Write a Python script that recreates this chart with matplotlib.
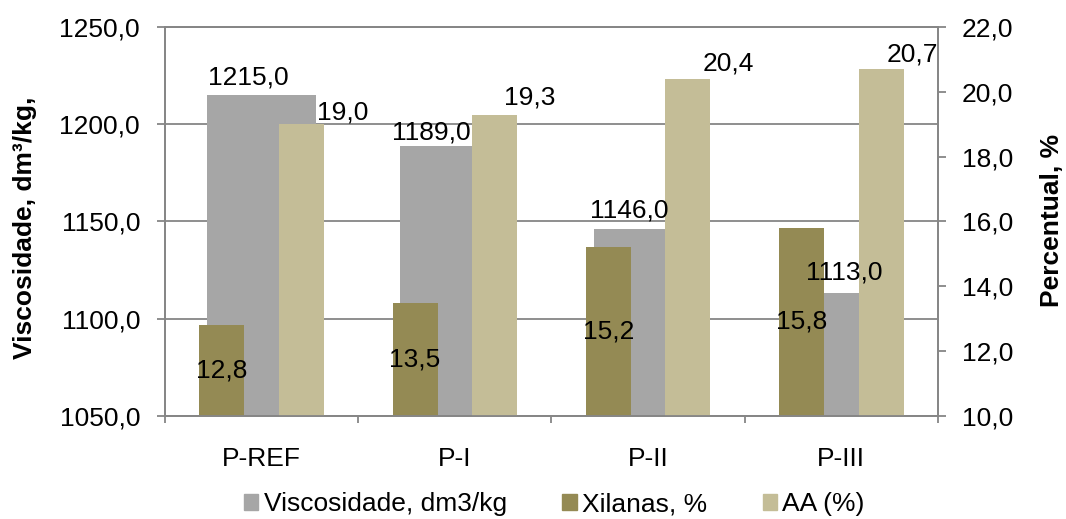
import matplotlib.pyplot as plt
import numpy as np
from matplotlib.patches import Patch

plt.rcParams['font.family'] = ['Liberation Sans', 'DejaVu Sans']
plt.rcParams['font.size'] = 19

amostras = ['P-REF', 'P-I', 'P-II', 'P-III']
viscosidade = [1215.0, 1189.0, 1146.0, 1113.0]   # dm3/kg
xilanas = [12.8, 13.5, 15.2, 15.8]               # %
aa = [19.0, 19.3, 20.4, 20.7]                    # %

cor_visc = '#a6a6a6'
cor_xil = '#948a54'
cor_aa = '#c4bd97'
cor_eixo = '#868686'

# deslocamento dos rotulos em pixels (x, y)
desl_visc = [(-13, 18), (-24, 13), (-19, 19), (3, 21)]
desl_aa = [(41, 12), (35, 17), (40, 15), (31, 15)]

fig = plt.figure(figsize=(10.66, 5.19), dpi=100)
ax1 = fig.add_axes([0.1548, 0.1985, 0.7251, 0.7495])
ax2 = ax1.twinx()

x = np.arange(len(amostras))
larg = 0.233
desloc = 0.206

ax1.bar(x, viscosidade, width=0.565, color=cor_visc, zorder=2)
ax1.set_ylim(1050, 1250)
ax1.set_yticks(np.arange(1050, 1251, 50))
ax1.set_yticklabels([f'{v:.1f}'.replace('.', ',') for v in np.arange(1050, 1251, 50)])
ax1.yaxis.grid(True, color=cor_eixo, lw=1.3, zorder=0)
ax1.set_axisbelow(True)

ax2.bar(x - desloc, xilanas, width=larg, color=cor_xil)
ax2.bar(x + desloc, aa, width=larg, color=cor_aa)
ax2.set_ylim(10, 22)
ax2.set_yticks(np.arange(10, 22.1, 2))
ax2.set_yticklabels([f'{v:.1f}'.replace('.', ',') for v in np.arange(10, 22.1, 2)])

ax1.set_xlim(-0.5, len(amostras) - 0.5)
ax1.set_xticks(x)
ax1.set_xticklabels(amostras)
ax1.set_xticks(np.arange(-0.5, len(amostras)), minor=True)
ax1.tick_params(axis='x', which='major', length=0, pad=22)
ax1.tick_params(axis='x', which='minor', length=5, width=1.3, color=cor_eixo)
ax1.tick_params(axis='y', length=6, width=1.3, color=cor_eixo, pad=12)
ax2.tick_params(axis='y', length=6, width=1.3, color=cor_eixo, pad=11)

for ax in (ax1, ax2):
    for s in ax.spines.values():
        s.set_color(cor_eixo)
        s.set_linewidth(1.3)

# rotulos de valor (todos desenhados por cima das barras)
def fmt(v):
    return f'{v:.1f}'.replace('.', ',')

for i in range(len(amostras)):
    ax2.annotate(fmt(viscosidade[i]), xy=(x[i], viscosidade[i]), xycoords=ax1.transData,
                 xytext=desl_visc[i], textcoords='offset pixels',
                 ha='center', va='center', zorder=5)
    ax2.annotate(fmt(aa[i]), xy=(x[i] + desloc, aa[i]),
                 xytext=desl_aa[i], textcoords='offset pixels',
                 ha='center', va='center', zorder=5)
    ax2.text(x[i] - desloc, (10 + xilanas[i]) / 2, fmt(xilanas[i]),
             ha='center', va='center', zorder=5)

fig.text(25 / 1066, 0.5617, 'Viscosidade, dm³/kg,', rotation=90,
         ha='center', va='center', fontweight='bold')
fig.text(1052 / 1066, 0.576, 'Percentual, %', rotation=90,
         ha='center', va='center', fontweight='bold')

handles = [Patch(color=cor_visc), Patch(color=cor_xil), Patch(color=cor_aa)]
fig.legend(handles, ['Viscosidade, dm3/kg', 'Xilanas, %', 'AA (%)'],
           loc='lower center', bbox_to_anchor=(0.52, -0.04), ncol=3, frameon=False,
           handlelength=0.55, handleheight=0.55, handletextpad=0.2,
           columnspacing=2.1)

fig.savefig('out.png', dpi=100)
